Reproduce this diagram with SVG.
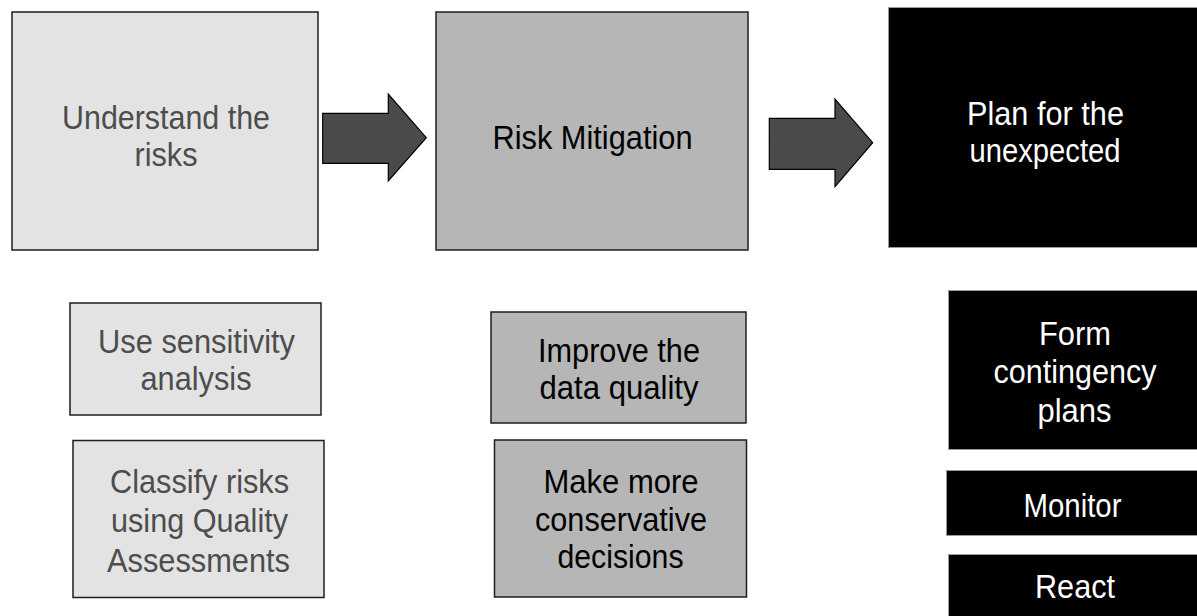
<svg xmlns="http://www.w3.org/2000/svg" width="1197" height="616" viewBox="0 0 1197 616">
  <style>
    text { font-family: "Liberation Sans", Arial, sans-serif; font-size: 33px; text-anchor: middle; }
    .light rect { fill: #e3e3e3; stroke: #1e1e1e; stroke-width: 1.5; }
    .light text { fill: #4d4d4d; }
    .mid rect { fill: #b6b6b6; stroke: #1e1e1e; stroke-width: 1.5; }
    .mid text { fill: #000000; }
    .dark rect { fill: #000000; stroke: #9a9a9a; stroke-width: 1; }
    .dark text { fill: #ffffff; }
    .arrow { fill: #4a4a4a; stroke: #000000; stroke-width: 1.2; stroke-linejoin: miter; }
  </style>

  <g id="understand" class="light">
    <rect x="12" y="12" width="306" height="238"/>
    <text x="166" y="129" textLength="208" lengthAdjust="spacingAndGlyphs">Understand the</text>
    <text x="166" y="166" textLength="63" lengthAdjust="spacingAndGlyphs">risks</text>
  </g>

  <g id="mitigation" class="mid">
    <rect x="436" y="12" width="312" height="238"/>
    <text x="592.5" y="148.5" textLength="200" lengthAdjust="spacingAndGlyphs">Risk Mitigation</text>
  </g>

  <g id="plan" class="dark">
    <rect x="888.5" y="7.5" width="320" height="240"/>
    <text x="1045.5" y="124.5" textLength="157" lengthAdjust="spacingAndGlyphs">Plan for the</text>
    <text x="1045" y="161.5" textLength="151" lengthAdjust="spacingAndGlyphs">unexpected</text>
  </g>

  <g id="sensitivity" class="light">
    <rect x="70" y="303" width="251" height="112"/>
    <text x="196.5" y="353" textLength="197" lengthAdjust="spacingAndGlyphs">Use sensitivity</text>
    <text x="196" y="390" textLength="111" lengthAdjust="spacingAndGlyphs">analysis</text>
  </g>

  <g id="classify" class="light">
    <rect x="73" y="440.5" width="251" height="157"/>
    <text x="199.5" y="493" textLength="179" lengthAdjust="spacingAndGlyphs">Classify risks</text>
    <text x="199.5" y="531.5" textLength="177" lengthAdjust="spacingAndGlyphs">using Quality</text>
    <text x="198.5" y="571.5" textLength="183" lengthAdjust="spacingAndGlyphs">Assessments</text>
  </g>

  <g id="improve" class="mid">
    <rect x="491" y="312" width="255" height="111"/>
    <text x="619" y="361.5" textLength="162" lengthAdjust="spacingAndGlyphs">Improve the</text>
    <text x="619" y="399" textLength="159" lengthAdjust="spacingAndGlyphs">data quality</text>
  </g>

  <g id="conservative" class="mid">
    <rect x="494.5" y="440" width="252" height="157"/>
    <text x="621" y="493" textLength="155" lengthAdjust="spacingAndGlyphs">Make more</text>
    <text x="621" y="530.5" textLength="172" lengthAdjust="spacingAndGlyphs">conservative</text>
    <text x="620.5" y="568" textLength="126" lengthAdjust="spacingAndGlyphs">decisions</text>
  </g>

  <g id="contingency" class="dark">
    <rect x="948.5" y="290.5" width="260" height="159"/>
    <text x="1075" y="345" textLength="72" lengthAdjust="spacingAndGlyphs">Form</text>
    <text x="1075" y="383" textLength="163" lengthAdjust="spacingAndGlyphs">contingency</text>
    <text x="1074.5" y="421.5" textLength="74" lengthAdjust="spacingAndGlyphs">plans</text>
  </g>

  <g id="monitor" class="dark">
    <rect x="946.5" y="470.5" width="262" height="65"/>
    <text x="1072.5" y="516.5" textLength="98" lengthAdjust="spacingAndGlyphs">Monitor</text>
  </g>

  <g id="react" class="dark">
    <rect x="948.5" y="554.5" width="260" height="80"/>
    <text x="1075" y="598" textLength="80" lengthAdjust="spacingAndGlyphs">React</text>
  </g>

  <g id="connectors">
    <polygon class="arrow" points="322.7,113.3 388.3,113.3 388.3,94 426.3,137.7 388.3,181 388.3,163.3 322.7,163.3"/>
    <polygon class="arrow" points="769.3,118.3 835,118.3 835,99 872.7,142.7 835,186.7 835,169.3 769.3,169.3"/>
  </g>
</svg>
